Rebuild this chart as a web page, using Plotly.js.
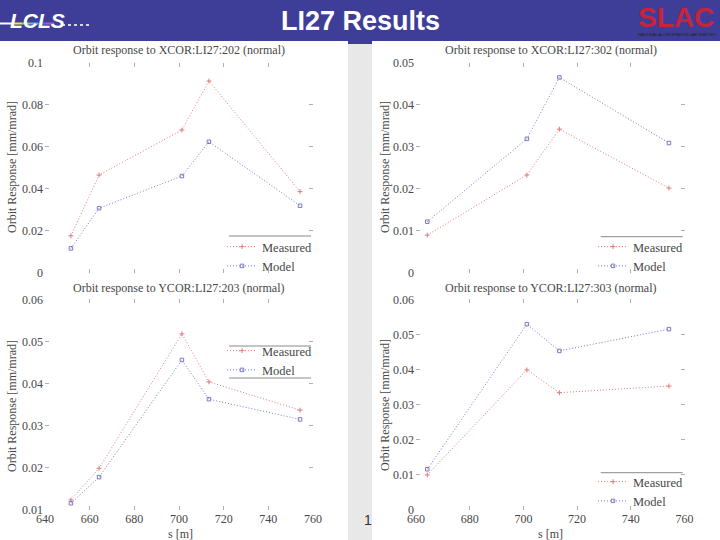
<!DOCTYPE html>
<html>
<head>
<meta charset="utf-8">
<script src="https://cdn.plot.ly/plotly-3.0.1.min.js"></script>
<style>html,body{margin:0;padding:0;background:#fff;}#chart{width:720px;height:540px;}</style>
</head>
<body>
<div id="chart"></div>
<script>
// ---- data ----
var sLeft = [651.6, 664.2, 701.3, 713.4, 754.2];
var sRight = [664.2, 701.3, 713.4, 754.2];

var x202Measured = [0.0177, 0.0466, 0.0680, 0.0913, 0.0387];
var x202Model    = [0.0117, 0.0308, 0.0461, 0.0624, 0.0320];
var x302Measured = [0.0090, 0.0233, 0.0342, 0.0202];
var x302Model    = [0.0122, 0.0319, 0.0465, 0.0309];
var y203Measured = [0.0124, 0.0199, 0.0518, 0.0404, 0.0337];
var y203Model    = [0.0116, 0.0178, 0.0456, 0.0363, 0.0315];
var y303Measured = [0.0100, 0.0399, 0.0334, 0.0353];
var y303Model    = [0.0116, 0.0529, 0.0453, 0.0515];

var subplotTitles = [
  'Orbit response to XCOR:LI27:202 (normal)',
  'Orbit response to XCOR:LI27:302 (normal)',
  'Orbit response to YCOR:LI27:203 (normal)',
  'Orbit response to YCOR:LI27:303 (normal)'
];
var seriesNames = ['Measured', 'Model'];
var yTitle = 'Orbit Response [mm/mrad]';
var xTitle = 's [m]';
var slideTitle = 'LI27 Results';

// ---- styles ----
var W = 720, H = 540;
function px(x){ return x / W; }
function py(y){ return 1 - y / H; }
var serif = 'Liberation Serif, Times New Roman, serif';
var txtCol = '#474747';
var redCol = '#e07a7a';
var blueCol = '#7a7ac4';

function mk(x, y, name, col, sym, xa, ya, leg){
  return {
    x: x, y: y, name: name, type: 'scatter', mode: 'lines+markers',
    xaxis: xa, yaxis: ya, legend: leg, showlegend: true,
    line: {color: col, width: 1, dash: '1px,2px'},
    marker: {color: col, symbol: sym, size: 3.5, line: {color: col, width: 1}}
  };
}

var data = [
  mk(sLeft, x202Measured, seriesNames[0], redCol, 'cross-thin-open', 'x', 'y', 'legend'),
  mk(sLeft, x202Model, seriesNames[1], blueCol, 'square-open', 'x', 'y', 'legend'),
  mk(sRight, x302Measured, seriesNames[0], redCol, 'cross-thin-open', 'x2', 'y2', 'legend2'),
  mk(sRight, x302Model, seriesNames[1], blueCol, 'square-open', 'x2', 'y2', 'legend2'),
  mk(sLeft, y203Measured, seriesNames[0], redCol, 'cross-thin-open', 'x3', 'y3', 'legend3'),
  mk(sLeft, y203Model, seriesNames[1], blueCol, 'square-open', 'x3', 'y3', 'legend3'),
  mk(sRight, y303Measured, seriesNames[0], redCol, 'cross-thin-open', 'x4', 'y4', 'legend4'),
  mk(sRight, y303Model, seriesNames[1], blueCol, 'square-open', 'x4', 'y4', 'legend4')
];

var domLeft = [px(45), px(313)];
var domRight = [px(416), px(684.5)];
var domTop = [py(273), py(62.7)];
var domBot = [py(510), py(299.3)];

function xax(dom, range, anchor, labels){
  return {domain: dom, range: range, anchor: anchor, dtick: 20, tick0: 640,
    showline: false, showgrid: false, zeroline: false,
    ticks: 'inside', ticklen: 4, tickcolor: '#b0b0b0', mirror: 'ticks',
    ticklabelstandoff: 0,
    showticklabels: labels, tickfont: {family: serif, size: 12, color: txtCol}};
}
function yax(dom, range, anchor, dtick){
  return {domain: dom, range: range, anchor: anchor, dtick: dtick, tick0: 0,
    showline: false, showgrid: false, zeroline: false,
    ticks: 'inside', ticklen: 4, tickcolor: '#b0b0b0', mirror: 'ticks',
    ticklabelstandoff: 1,
    tickfont: {family: serif, size: 12, color: txtCol}};
}
function leg(x, y){
  return {x: px(x), y: py(y), xanchor: 'left', yanchor: 'top', bgcolor: 'rgba(0,0,0,0)',
    borderwidth: 0, itemwidth: 30, font: {family: serif, size: 12.5, color: txtCol}};
}

var ann = [];
function addAnn(text, x, y, opts){
  var a = {text: text, x: px(x), y: py(y), xref: 'paper', yref: 'paper', showarrow: false,
    xanchor: 'center', yanchor: 'middle', font: {family: serif, size: 12, color: txtCol}};
  for (var k in opts) a[k] = opts[k];
  ann.push(a);
}
addAnn(subplotTitles[0], 179, 50);
addAnn(subplotTitles[1], 551, 50);
addAnn(subplotTitles[2], 179, 288);
addAnn(subplotTitles[3], 551, 288);
addAnn(yTitle, 12, 167, {textangle: -90});
addAnn(yTitle, 12, 406, {textangle: -90});
addAnn(yTitle, 385, 167, {textangle: -90});
addAnn(yTitle, 385, 405, {textangle: -90});
addAnn(xTitle, 180, 534);
addAnn(xTitle, 550, 534);
addAnn('1', 368, 520, {font: {family: 'Liberation Sans, Arial, sans-serif', size: 14, color: '#333'}});
addAnn(slideTitle, 360, 21, {font: {family: 'Liberation Sans, Arial, sans-serif', size: 27, color: '#ffffff', weight: 'bold'}});
addAnn('<b><i>LCLS</i></b>', 37, 21, {font: {family: 'Liberation Sans, Arial, sans-serif', size: 21, color: '#ffffff'}});
addAnn('<b>SLAC</b>', 676, 18, {font: {family: 'Liberation Sans, Arial, sans-serif', size: 28, color: '#c8233c'}});
addAnn('NATIONAL ACCELERATOR LABORATORY', 677, 34, {font: {family: 'Liberation Sans, Arial, sans-serif', size: 4, color: '#222'}});

var shapes = [
  {type: 'rect', xref: 'paper', yref: 'paper', x0: 0, x1: 1, y0: py(41), y1: 1, fillcolor: '#3e3e98', line: {width: 0}, layer: 'below'},
  {type: 'rect', xref: 'paper', yref: 'paper', x0: px(348), x1: px(372), y0: 0, y1: py(41), fillcolor: '#e8e8e8', line: {width: 0}, layer: 'below'},
  {type: 'rect', xref: 'paper', yref: 'paper', x0: px(348), x1: px(372), y0: py(44), y1: py(40), fillcolor: '#3e3e98', line: {width: 0}, layer: 'below'}
];
// LCLS logo streak
var streak = [['#ffffff', 0, 14], ['#f5e642', 14, 22], ['#7fd957', 22, 30], ['#46c8e8', 30, 38], ['#5a6ee8', 38, 46], ['#c050d0', 46, 54]];
streak.forEach(function(s){
  shapes.push({type: 'line', xref: 'paper', yref: 'paper', x0: px(s[1]), x1: px(s[2]), y0: py(23.5), y1: py(23.5), line: {color: s[0], width: 2}});
});
shapes.push({type: 'line', xref: 'paper', yref: 'paper', x0: px(62), x1: px(90), y0: py(25), y1: py(25), line: {color: '#d8d8e8', width: 2, dash: 'dot'}});
// legend frame lines
function hline(y, x0, x1){
  shapes.push({type: 'line', xref: 'paper', yref: 'paper', x0: px(x0), x1: px(x1), y0: py(y), y1: py(y), line: {color: '#8a8a8a', width: 1}});
}
hline(236, 229, 311);
hline(236.7, 600.7, 682.7);
hline(346, 229, 311);
hline(378, 229, 311);
hline(472.7, 600.7, 682.7);

var layout = {
  width: W, height: H,
  margin: {l: 0, r: 0, t: 0, b: 0},
  paper_bgcolor: '#ffffff', plot_bgcolor: 'rgba(0,0,0,0)',
  xaxis: xax(domLeft, [640, 760], 'y', false),
  yaxis: yax(domTop, [0, 0.1], 'x', 0.02),
  xaxis2: xax(domRight, [660, 760], 'y2', false),
  yaxis2: yax(domTop, [0, 0.05], 'x2', 0.01),
  xaxis3: xax(domLeft, [640, 760], 'y3', true),
  yaxis3: yax(domBot, [0.01, 0.06], 'x3', 0.01),
  xaxis4: xax(domRight, [660, 760], 'y4', true),
  yaxis4: yax(domBot, [0, 0.06], 'x4', 0.01),
  legend: leg(222, 232),
  legend2: leg(593, 232),
  legend3: leg(222, 336),
  legend4: leg(593, 467),
  annotations: ann,
  shapes: shapes
};

Plotly.newPlot('chart', data, layout, {displayModeBar: false, staticPlot: true});
</script>
</body>
</html>
